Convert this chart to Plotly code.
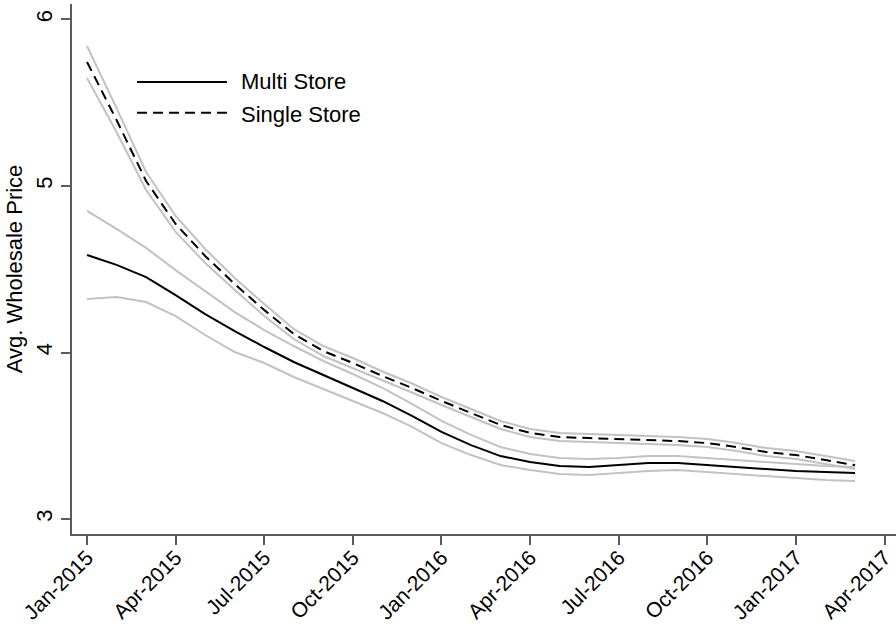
import plotly.graph_objects as go

# Monthly observations, Jan-2015 .. Mar-2017
months = ["Jan-2015", "Feb-2015", "Mar-2015", "Apr-2015", "May-2015", "Jun-2015",
          "Jul-2015", "Aug-2015", "Sep-2015", "Oct-2015", "Nov-2015", "Dec-2015",
          "Jan-2016", "Feb-2016", "Mar-2016", "Apr-2016", "May-2016", "Jun-2016",
          "Jul-2016", "Aug-2016", "Sep-2016", "Oct-2016", "Nov-2016", "Dec-2016",
          "Jan-2017", "Feb-2017", "Mar-2017"]

multi_mean = [4.586, 4.526, 4.453, 4.345, 4.231, 4.129, 4.033, 3.943, 3.865, 3.787,
              3.709, 3.619, 3.523, 3.444, 3.378, 3.342, 3.318, 3.312, 3.324, 3.336,
              3.336, 3.324, 3.312, 3.300, 3.288, 3.282, 3.276]
multi_upper = [4.850, 4.742, 4.628, 4.495, 4.369, 4.243, 4.135, 4.039, 3.949, 3.871,
               3.787, 3.691, 3.589, 3.505, 3.432, 3.390, 3.366, 3.360, 3.366, 3.378,
               3.378, 3.366, 3.354, 3.342, 3.330, 3.318, 3.312]
multi_lower = [4.321, 4.333, 4.303, 4.219, 4.105, 4.003, 3.937, 3.853, 3.781, 3.709,
               3.637, 3.553, 3.456, 3.384, 3.324, 3.294, 3.270, 3.264, 3.276, 3.288,
               3.294, 3.282, 3.270, 3.258, 3.246, 3.234, 3.228]

single_mean = [5.745, 5.396, 5.030, 4.772, 4.580, 4.411, 4.255, 4.111, 4.009, 3.937,
               3.859, 3.787, 3.709, 3.637, 3.565, 3.517, 3.492, 3.486, 3.480, 3.474,
               3.468, 3.456, 3.432, 3.402, 3.384, 3.354, 3.324]
single_upper = [5.841, 5.468, 5.084, 4.820, 4.622, 4.447, 4.291, 4.141, 4.039, 3.967,
                3.886, 3.814, 3.733, 3.661, 3.589, 3.541, 3.516, 3.510, 3.504, 3.498,
                3.492, 3.480, 3.456, 3.426, 3.408, 3.378, 3.348]
single_lower = [5.649, 5.324, 4.976, 4.724, 4.538, 4.375, 4.219, 4.081, 3.979, 3.907,
                3.832, 3.760, 3.685, 3.613, 3.541, 3.493, 3.468, 3.462, 3.456, 3.450,
                3.444, 3.432, 3.408, 3.378, 3.360, 3.330, 3.300]

tick_labels = ["Jan-2015", "Apr-2015", "Jul-2015", "Oct-2015", "Jan-2016",
               "Apr-2016", "Jul-2016", "Oct-2016", "Jan-2017", "Apr-2017"]
y_ticks = [3, 4, 5, 6]
legend_names = ["Multi Store", "Single Store"]

x = list(range(len(months)))
tick_vals = [3 * i for i in range(len(tick_labels))]

FONT = "Liberation Sans, Arial, Helvetica, sans-serif"
GRAY = "#c2c2c2"
AXIS = "#5a5a5a"

fig = go.Figure()
for ys in (multi_upper, multi_lower, single_upper, single_lower):
    fig.add_trace(go.Scatter(x=x, y=ys, mode="lines", customdata=months,
                             line=dict(color=GRAY, width=2), showlegend=False,
                             hoverinfo="skip"))
fig.add_trace(go.Scatter(x=x, y=multi_mean, mode="lines", name=legend_names[0],
                         customdata=months, line=dict(color="black", width=2),
                         showlegend=False))
fig.add_trace(go.Scatter(x=x, y=single_mean, mode="lines", name=legend_names[1],
                         customdata=months,
                         line=dict(color="black", width=2, dash="10px,6px"),
                         showlegend=False))

# Legend drawn as keys + labels (long Stata-style keys)
fig.add_shape(type="line", xref="paper", yref="paper", x0=0.0789, x1=0.188,
              y0=0.853, y1=0.853, line=dict(color="black", width=2))
fig.add_shape(type="line", xref="paper", yref="paper", x0=0.0789, x1=0.188,
              y0=0.795, y1=0.795, line=dict(color="black", width=2, dash="10px,6px"))
for name, yp in zip(legend_names, (0.853, 0.792)):
    fig.add_annotation(text=name, xref="paper", yref="paper", x=0.203, y=yp,
                       xanchor="left", yanchor="middle", showarrow=False,
                       font=dict(family=FONT, size=22, color="black"))

fig.update_layout(
    width=896, height=627,
    margin=dict(l=72, r=0, t=4, b=93),
    paper_bgcolor="white", plot_bgcolor="white",
    font=dict(family=FONT, size=22, color="black"),
    showlegend=False,
)
fig.update_xaxes(range=[-0.508, 27.386], tickmode="array", tickvals=tick_vals,
                 ticktext=tick_labels, tickangle=-45, showgrid=False, zeroline=False,
                 automargin=False, ticklabelstandoff=-8,
                 showline=True, linecolor=AXIS, linewidth=2, ticks="outside",
                 ticklen=9, tickwidth=1.5, tickcolor=AXIS,
                 tickfont=dict(family=FONT, size=21, color="black"))
fig.update_yaxes(range=[2.910, 6.093], tickmode="array", tickvals=y_ticks,
                 tickangle=-90, showgrid=False, zeroline=False,
                 automargin=False,
                 showline=True, linecolor=AXIS, linewidth=2, ticks="outside",
                 ticklen=9, tickwidth=1.5, tickcolor=AXIS,
                 tickfont=dict(family=FONT, size=22, color="black"),
                 title=dict(text="Avg. Wholesale Price", standoff=4,
                            font=dict(family=FONT, size=22, color="black")))

fig.write_html("out.html", config={"displayModeBar": False},
               post_script="document.body.style.margin='0';"
                           "document.body.style.overflow='hidden';")
